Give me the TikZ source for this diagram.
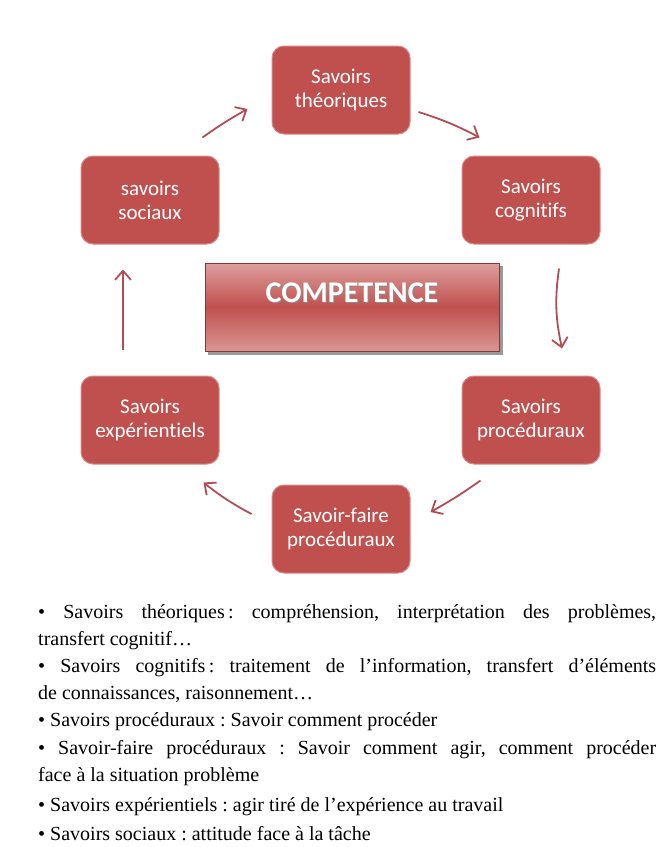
\documentclass[tikz,border=0pt]{standalone}
\usepackage{fontspec}
\setmainfont{Liberation Serif}
\newfontfamily\boxfont[Ligatures=NoCommon]{Carlito}
\usetikzlibrary{arrows.meta}
\frenchspacing
\definecolor{boxred}{HTML}{C0504D}
\definecolor{arrred}{HTML}{B24D55}
\definecolor{edgered}{HTML}{D98A88}
\tikzset{
  savoirbox/.style={draw=edgered, line width=1pt, fill=boxred, rounded corners=12pt,
    minimum width=138pt, minimum height=88pt, align=center, text=white,
    font=\boxfont\fontsize{21}{24}\selectfont, inner sep=0pt},
  arr/.style={draw=arrred, line width=1.8pt, -{Straight Barb[length=9pt,width=16pt,line width=1.8pt]}},
  listline/.style={anchor=base west, inner sep=0pt, font=\fontsize{20}{22}\selectfont},
  compfont/.style={font=\boxfont\bfseries\fontsize{30}{32}\selectfont, inner sep=0pt}
}
\begin{document}
\begin{tikzpicture}[x=1pt,y=-1pt]
\useasboundingbox[fill=white] (0,0) rectangle (660,847);
\begin{scope}
\clip (0,0) rectangle (660,847);
% boxes
\node[savoirbox] (theo) at (341,90) {Savoirs\\théoriques};
\node[savoirbox] (cog) at (531,200) {Savoirs\\cognitifs};
\node[savoirbox] (soc) at (150,200) {savoirs\\sociaux};
\node[savoirbox] (proc) at (531,420) {Savoirs\\procéduraux};
\node[savoirbox] (exp) at (150,420) {Savoirs\\expérientiels};
\node[savoirbox] (sf) at (341,529) {Savoir-faire\\procéduraux};
% competence
\fill[black!40] (208,266) rectangle (503,355);
\node[draw=boxred!70!black, line width=1pt, minimum width=294pt, minimum height=88pt,
  inner sep=0pt, top color=boxred!55!white, bottom color=boxred!60!white, middle color=boxred]
  (comp) at (352,307) {};
\node[compfont, text=black!45] (compsh) at ([shift={(1,1)}]comp.center |- 0,293) {COMPETENCE};
\node[compfont, text=white] (comptxt) at (comp.center |- 0,293) {COMPETENCE};
% arrows
\draw[arr] ([shift={(-17,-18)}]soc.north east) to[bend left=3] ([shift={(-24,19)}]theo.west);
\draw[arr] ([shift={(8,22)}]theo.east) to[bend left=5] ([shift={(18,-18)}]cog.north west);
\draw[arr] ([shift={(28,24)}]cog.south) to[bend right=10] ([shift={(31,-27)}]proc.north);
\draw[arr] ([shift={(19,16)}]proc.south west) to[bend left=3] ([shift={(20,-17)}]sf.east);
\draw[arr] ([shift={(-20,-15)}]sf.west) to[bend left=5] ([shift={(-16,18)}]exp.south east);
\draw[arr] ([shift={(-27,-26)}]exp.north) -- ([shift={(-27,25)}]soc.south);
% list
\node[listline] (l1) at (38,618) {\hbox to 618pt{• Savoirs théoriques\,: compréhension, interprétation des problèmes,}};
\node[listline] (l2) at (38,645) {transfert cognitif…};
\node[listline] (l3) at (38,672) {\hbox to 618pt{• Savoirs cognitifs\,: traitement de l’information, transfert d’éléments}};
\node[listline] (l4) at (38,699) {de connaissances, raisonnement…};
\node[listline] (l5) at (38,726) {• Savoirs procéduraux : Savoir comment procéder};
\node[listline] (l6) at (38,754) {\hbox to 618pt{• Savoir-faire procéduraux : Savoir comment agir, comment procéder}};
\node[listline] (l7) at (38,781) {face à la situation problème};
\node[listline] (l8) at (38,811) {• Savoirs expérientiels : agir tiré de l’expérience au travail};
\node[listline] (l9) at (38,840) {• Savoirs sociaux : attitude face à la tâche};
\end{scope}
\end{tikzpicture}
\end{document}
